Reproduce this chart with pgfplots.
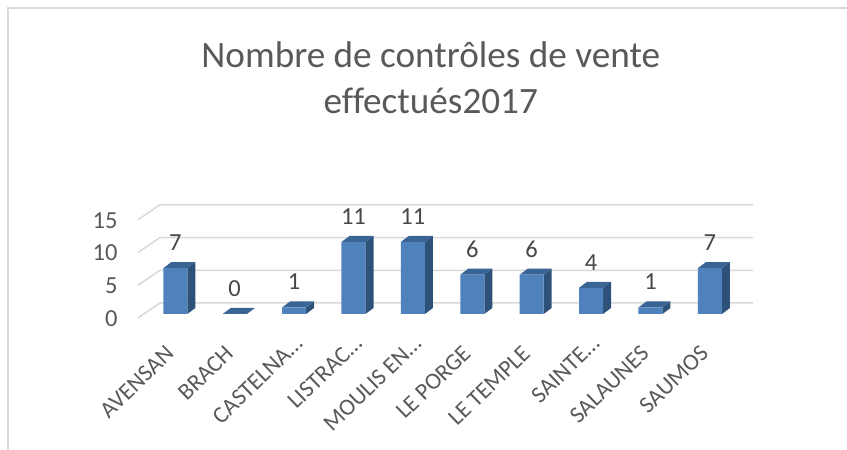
\documentclass[border=0pt]{standalone}
\usepackage{pgfplots}
\usepackage{pgfplotstable}
\usepackage{fontspec}
\setmainfont{Carlito}[Ligatures=NoCommon]
\pgfplotsset{compat=1.18}
\definecolor{gridc}{HTML}{D9D9D9}
\definecolor{txt}{HTML}{595959}
\definecolor{front}{HTML}{4F81BD}
\definecolor{side}{HTML}{2E5179}
\definecolor{topf}{HTML}{3A6494}
\pgfplotstableread{
x v
0 7
1 0
2 1
3 11
4 11
5 6
6 6
7 4
8 1
9 7
}\counts
\newcommand\boxdepth[2]{%
  \pgfmathsetmacro\xa{#1-0.202}%
  \pgfmathsetmacro\xb{#1+0.202}%
  \pgfmathsetmacro\xc{#1+0.337}%
  \pgfmathsetmacro\xd{#1-0.067}%
  \pgfmathsetmacro\yb{#2+0.92}%
  \edef\tmp{\noexpand\addplot[fill=side,draw=none,forget plot] coordinates {(\xb,0) (\xc,0.92) (\xc,\yb) (\xb,#2)} -- cycle;
  \noexpand\addplot[fill=topf,draw=none,forget plot] coordinates {(\xa,#2) (\xb,#2) (\xc,\yb) (\xd,\yb)} -- cycle;}\tmp}
\newcommand\el{…\kern-14pt}
\begin{document}
\begin{tikzpicture}
\useasboundingbox (-138pt,-132pt) rectangle (709pt,318pt);
\draw[gridc,line width=1.2pt] (-130pt,-132pt) -- (-130pt,310pt) -- (709pt,310pt);
\begin{axis}[
  at={(0pt,0pt)},anchor=south west,
  scale only axis,width=615pt,height=113.5pt,
  xmin=-0.628,xmax=9.726,ymin=-0.611,ymax=16.72,
  clip=false,
  axis line style={draw=none},
  major tick length=0pt,
  xtick={0,...,9},
  xticklabels={AVENSAN,BRACH,CASTELNA\el,LISTRAC\el,MOULIS EN\el,LE PORGE,LE TEMPLE,SAINTE\el,SALAUNES,SAUMOS},
  ytick={0,5,10,15},
  /pgf/number format/assume math mode=true,
  tick label style={font=\fontsize{24.5}{28}\selectfont,text=txt},
  xticklabel style={font=\fontsize{23.5}{27}\selectfont,rotate=44,anchor=east,xshift=-22.5pt,yshift=-19pt},
  yticklabel style={anchor=east,xshift=-17pt,yshift=-4.5pt},
  title={Nombre de contrôles de vente\\effectués2017},
  title style={align=center,font=\fontsize{37.2}{46}\selectfont,text=txt,at={(0.476,2.065)},anchor=center},
]
\addplot[gridc,line width=1.5pt,forget plot] coordinates {(-0.628,-0.61) (-0.258,1.68) (9.726,1.68)};
\addplot[gridc,line width=1.5pt,forget plot] coordinates {(-0.628,4.39) (-0.258,6.68) (9.726,6.68)};
\addplot[gridc,line width=1.5pt,forget plot] coordinates {(-0.628,9.39) (-0.258,11.68) (9.726,11.68)};
\addplot[gridc,line width=1.5pt,forget plot] coordinates {(-0.628,14.39) (-0.258,16.68) (9.726,16.68)};
\boxdepth{0}{7}\boxdepth{1}{0}\boxdepth{2}{1}\boxdepth{3}{11}\boxdepth{4}{11}
\boxdepth{5}{6}\boxdepth{6}{6}\boxdepth{7}{4}\boxdepth{8}{1}\boxdepth{9}{7}
\addplot[ybar,bar width=24pt,bar shift=0pt,fill=front,draw=none,
  nodes near coords,
  nodes near coords style={font=\fontsize{24.5}{28}\selectfont,text=txt!80!black,anchor=center,yshift=25.5pt},
] table[x=x,y=v] {\counts};
\end{axis}
\end{tikzpicture}
\end{document}
